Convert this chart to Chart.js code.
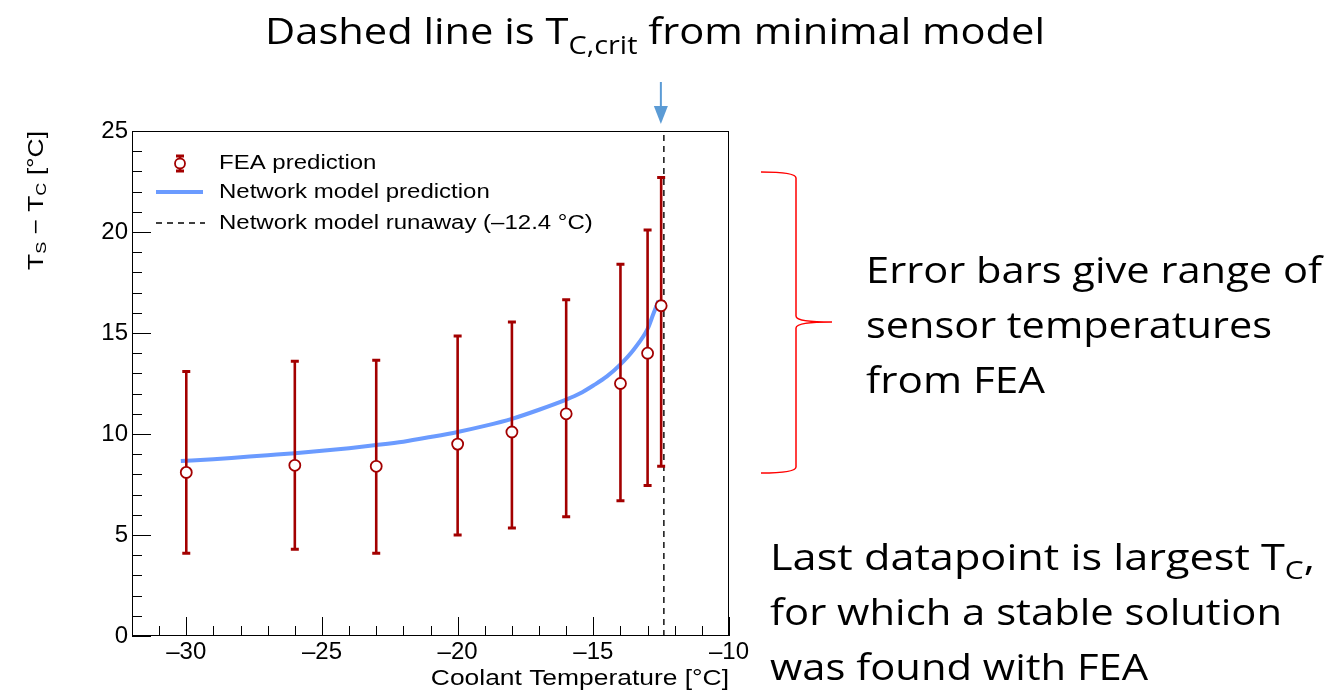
<!DOCTYPE html>
<html>
<head>
<meta charset="utf-8">
<script src="https://cdn.jsdelivr.net/npm/chart.js@4.4.0/dist/chart.umd.min.js"></script>
<style>
  html, body { margin: 0; padding: 0; background: #fff; }
  #c { display: block; }
</style>
</head>
<body>
<canvas id="c" width="1337" height="690"></canvas>
<script>
// FEA points with min/max sensor temperature range
var feaT    = [-30, -26, -23, -20, -18, -16, -14, -13, -12.5];
var feaY    = [8.1, 8.45, 8.4, 9.5, 10.1, 11.0, 12.5, 14.0, 16.35];
var feaLow  = [4.1, 4.3, 4.1, 5.0, 5.35, 5.9, 6.7, 7.45, 8.4];
var feaHigh = [13.1, 13.6, 13.65, 14.85, 15.55, 16.65, 18.4, 20.1, 22.7];

// network model curve
var modelT = [-30.2, -29, -28, -27, -26, -25, -24, -23, -22, -21, -20, -19, -18, -17, -16, -15.5, -15, -14.5, -14, -13.5, -13, -12.8, -12.6];
var modelY = [8.66, 8.75, 8.85, 8.95, 9.05, 9.17, 9.3, 9.45, 9.62, 9.85, 10.1, 10.4, 10.75, 11.2, 11.7, 12.0, 12.4, 12.85, 13.45, 14.2, 15.2, 15.9, 16.6];

var runawayT = -12.4;
var runawayY = [0, 25];

var xTicks = [-30, -25, -20, -15, -10];
var yTicks = [0, 5, 10, 15, 20, 25];

var RED = '#a30000';
var BLUE = '#6b9bff';
var ROOTFONT = '"Liberation Sans", Arial, sans-serif';
var SLIDEFONT = '"Open Sans", "Noto Sans", sans-serif';
var ROOTSTRETCH = 1.2;   // ROOT text in the picture is wider than Liberation Sans

function pts(xs, ys) {
    var out = [];
    for (var i = 0; i < xs.length; i++) {
        out.push({x: xs[i], y: ys[i]});
    }
    return out;
}

// draws a run of text pieces (with sub scripts), either squeezed to targetW
// or stretched by a fixed factor k; align 'right' puts the end at x
function drawParts(ctx, parts, x, y, opt, family) {
    var total = 0;
    parts.forEach(function (p) {
        ctx.font = p.s + 'px ' + family;
        p.w = ctx.measureText(p.t).width;
        total += p.w;
    });
    var k = opt.w ? opt.w / total : (opt.k || 1);
    ctx.save();
    ctx.translate(opt.right ? x - total * k : x, y);
    ctx.scale(k, 1);
    ctx.textAlign = 'left';
    var cx = 0;
    parts.forEach(function (p) {
        ctx.font = p.s + 'px ' + family;
        ctx.fillText(p.t, cx, p.dy || 0);
        cx += p.w;
    });
    ctx.restore();
    return total * k;
}

var rootPlugin = {
    id: 'rootStyle',
    beforeDatasetDraw: function (chart, args) {
        if (args.index !== 1) return;
        var ctx = chart.ctx;
        var xs = chart.scales.x, ys = chart.scales.y;
        ctx.save();
        ctx.strokeStyle = RED;
        for (var i = 0; i < feaT.length; i++) {
            var px = xs.getPixelForValue(feaT[i]);
            var lo = ys.getPixelForValue(feaLow[i]);
            var hi = ys.getPixelForValue(feaHigh[i]);
            ctx.lineWidth = 2.6;
            ctx.beginPath();
            ctx.moveTo(px, lo);
            ctx.lineTo(px, hi);
            ctx.stroke();
            ctx.lineWidth = 3;
            ctx.beginPath();
            ctx.moveTo(px - 4, lo); ctx.lineTo(px + 4, lo);
            ctx.moveTo(px - 4, hi); ctx.lineTo(px + 4, hi);
            ctx.stroke();
        }
        ctx.restore();
    },
    afterDraw: function (chart) {
        var ctx = chart.ctx;
        var a = chart.chartArea;
        var xs = chart.scales.x, ys = chart.scales.y;
        ctx.save();

        // ticks inside the frame
        ctx.strokeStyle = '#000';
        ctx.lineWidth = 1;
        ctx.beginPath();
        for (var v = -32; v <= -10; v++) {
            var px = Math.round(xs.getPixelForValue(v)) + 0.5;
            var len = (v % 5 === 0) ? 19 : 10;
            ctx.moveTo(px, a.bottom);
            ctx.lineTo(px, a.bottom - len);
        }
        for (var w = 0; w <= 25; w++) {
            var py = Math.round(ys.getPixelForValue(w)) + 0.5;
            var len2 = (w % 5 === 0) ? 19 : 10;
            ctx.moveTo(a.left, py);
            ctx.lineTo(a.left + len2, py);
        }
        ctx.stroke();
        ctx.strokeRect(Math.round(a.left) + 0.5, Math.round(a.top) + 0.5,
            Math.round(a.right - a.left) - 1, Math.round(a.bottom - a.top) - 1);

        // legend
        ctx.fillStyle = '#000';
        ctx.textBaseline = 'middle';
        drawParts(ctx, [{t: 'FEA prediction', s: 20}], 219, 163, {k: ROOTSTRETCH}, ROOTFONT);
        drawParts(ctx, [{t: 'Network model prediction', s: 20}], 219, 192, {k: ROOTSTRETCH}, ROOTFONT);
        drawParts(ctx, [{t: 'Network model runaway (\u201312.4 \u00b0C)', s: 20}], 219, 223, {k: ROOTSTRETCH}, ROOTFONT);

        ctx.strokeStyle = RED;
        ctx.lineWidth = 2.6;
        ctx.beginPath();
        ctx.moveTo(180, 156); ctx.lineTo(180, 171);
        ctx.stroke();
        ctx.lineWidth = 3;
        ctx.beginPath();
        ctx.moveTo(176, 156); ctx.lineTo(184, 156);
        ctx.moveTo(176, 171); ctx.lineTo(184, 171);
        ctx.stroke();
        ctx.fillStyle = '#fff';
        ctx.lineWidth = 1.8;
        ctx.beginPath();
        ctx.arc(180, 163.5, 5, 0, Math.PI * 2);
        ctx.fill();
        ctx.stroke();

        ctx.strokeStyle = BLUE;
        ctx.lineWidth = 4;
        ctx.beginPath();
        ctx.moveTo(156, 192); ctx.lineTo(203, 192);
        ctx.stroke();

        ctx.strokeStyle = '#000';
        ctx.lineWidth = 1.4;
        ctx.setLineDash([6, 5]);
        ctx.beginPath();
        ctx.moveTo(156, 223); ctx.lineTo(205, 223);
        ctx.stroke();
        ctx.setLineDash([]);

        // axis titles
        ctx.fillStyle = '#000';
        drawParts(ctx, [{t: 'Coolant Temperature [\u00b0C]', s: 22}], 729, 679,
            {k: ROOTSTRETCH, right: true}, ROOTFONT);

        ctx.save();
        ctx.translate(37, 131);
        ctx.rotate(-Math.PI / 2);
        drawParts(ctx, [
            {t: 'T', s: 22}, {t: 'S', s: 15, dy: 5},
            {t: ' \u2212 T', s: 22}, {t: 'C', s: 15, dy: 5},
            {t: ' [\u00b0C]', s: 22}
        ], 0, 0, {k: ROOTSTRETCH, right: true}, ROOTFONT);
        ctx.restore();

        // slide annotations
        ctx.textBaseline = 'alphabetic';
        drawParts(ctx, [
            {t: 'Dashed line is T', s: 36},
            {t: 'C,crit', s: 25, dy: 10},
            {t: ' from minimal model', s: 36}
        ], 265, 44, {w: 780}, SLIDEFONT);

        drawParts(ctx, [{t: 'Error bars give range of', s: 36}], 866, 283, {w: 456}, SLIDEFONT);
        drawParts(ctx, [{t: 'sensor temperatures', s: 36}], 866, 338, {w: 406}, SLIDEFONT);
        drawParts(ctx, [{t: 'from FEA', s: 36}], 866, 393, {w: 179}, SLIDEFONT);

        drawParts(ctx, [
            {t: 'Last datapoint is largest T', s: 36},
            {t: 'C', s: 25, dy: 9},
            {t: ',', s: 36}
        ], 770, 570, {w: 545}, SLIDEFONT);
        drawParts(ctx, [{t: 'for which a stable solution', s: 36}], 770, 625, {w: 512}, SLIDEFONT);
        drawParts(ctx, [{t: 'was found with FEA', s: 36}], 770, 680, {w: 378}, SLIDEFONT);

        // red brace
        ctx.strokeStyle = '#ff0000';
        ctx.lineWidth = 1.5;
        ctx.beginPath();
        ctx.moveTo(761, 172);
        ctx.bezierCurveTo(780, 172, 796, 173, 796, 178);
        ctx.lineTo(796, 316);
        ctx.bezierCurveTo(796, 321, 812, 322, 832, 322);
        ctx.bezierCurveTo(812, 322, 796, 323, 796, 328);
        ctx.lineTo(796, 467);
        ctx.bezierCurveTo(796, 472, 780, 473, 761, 473);
        ctx.stroke();

        // blue arrow pointing at the dashed line
        var ax = xs.getPixelForValue(runawayT) - 3;
        ctx.strokeStyle = '#5b9bd5';
        ctx.fillStyle = '#5b9bd5';
        ctx.lineWidth = 2;
        ctx.beginPath();
        ctx.moveTo(ax, 82); ctx.lineTo(ax, 108);
        ctx.stroke();
        ctx.beginPath();
        ctx.moveTo(ax - 7, 106); ctx.lineTo(ax + 7, 106); ctx.lineTo(ax, 124);
        ctx.closePath();
        ctx.fill();

        ctx.restore();
    }
};

var minus = function (v) { return String(v).replace('-', '\u2013'); };

new Chart(document.getElementById('c'), {
    type: 'scatter',
    data: {
        datasets: [{
            type: 'line',
            label: 'Network model runaway',
            data: pts([runawayT, runawayT], runawayY),
            borderColor: '#000',
            borderWidth: 1.4,
            borderDash: [6, 5],
            pointRadius: 0,
            order: 3
        }, {
            label: 'FEA prediction',
            data: pts(feaT, feaY),
            pointStyle: 'circle',
            pointRadius: 5.5,
            borderColor: RED,
            backgroundColor: '#fff',
            pointBorderWidth: 1.8,
            order: 1
        }, {
            type: 'line',
            label: 'Network model prediction',
            data: pts(modelT, modelY),
            borderColor: BLUE,
            borderWidth: 4,
            pointRadius: 0,
            cubicInterpolationMode: 'monotone',
            order: 2
        }]
    },
    options: {
        responsive: false,
        animation: false,
        devicePixelRatio: 1,
        layout: {padding: {left: 0, top: 131, right: 608, bottom: 0}},
        plugins: {legend: {display: false}, tooltip: {enabled: false}},
        scales: {
            x: {
                type: 'linear',
                min: -32,
                max: -10,
                afterBuildTicks: function (s) {
                    s.ticks = xTicks.map(function (v) { return {value: v}; });
                },
                afterFit: function (s) { s.height = 54; },
                grid: {display: false, drawTicks: false},
                border: {display: false},
                ticks: {
                    color: '#000',
                    padding: 2,
                    maxRotation: 0,
                    font: {family: ROOTFONT, size: 24},
                    callback: minus
                }
            },
            y: {
                min: 0,
                max: 25,
                afterBuildTicks: function (s) {
                    s.ticks = yTicks.map(function (v) { return {value: v}; });
                },
                afterFit: function (s) { s.width = 132; },
                grid: {display: false, drawTicks: false},
                border: {display: false},
                ticks: {
                    color: '#000',
                    padding: 4,
                    font: {family: ROOTFONT, size: 24}
                }
            }
        }
    },
    plugins: [rootPlugin]
});
</script>
</body>
</html>
